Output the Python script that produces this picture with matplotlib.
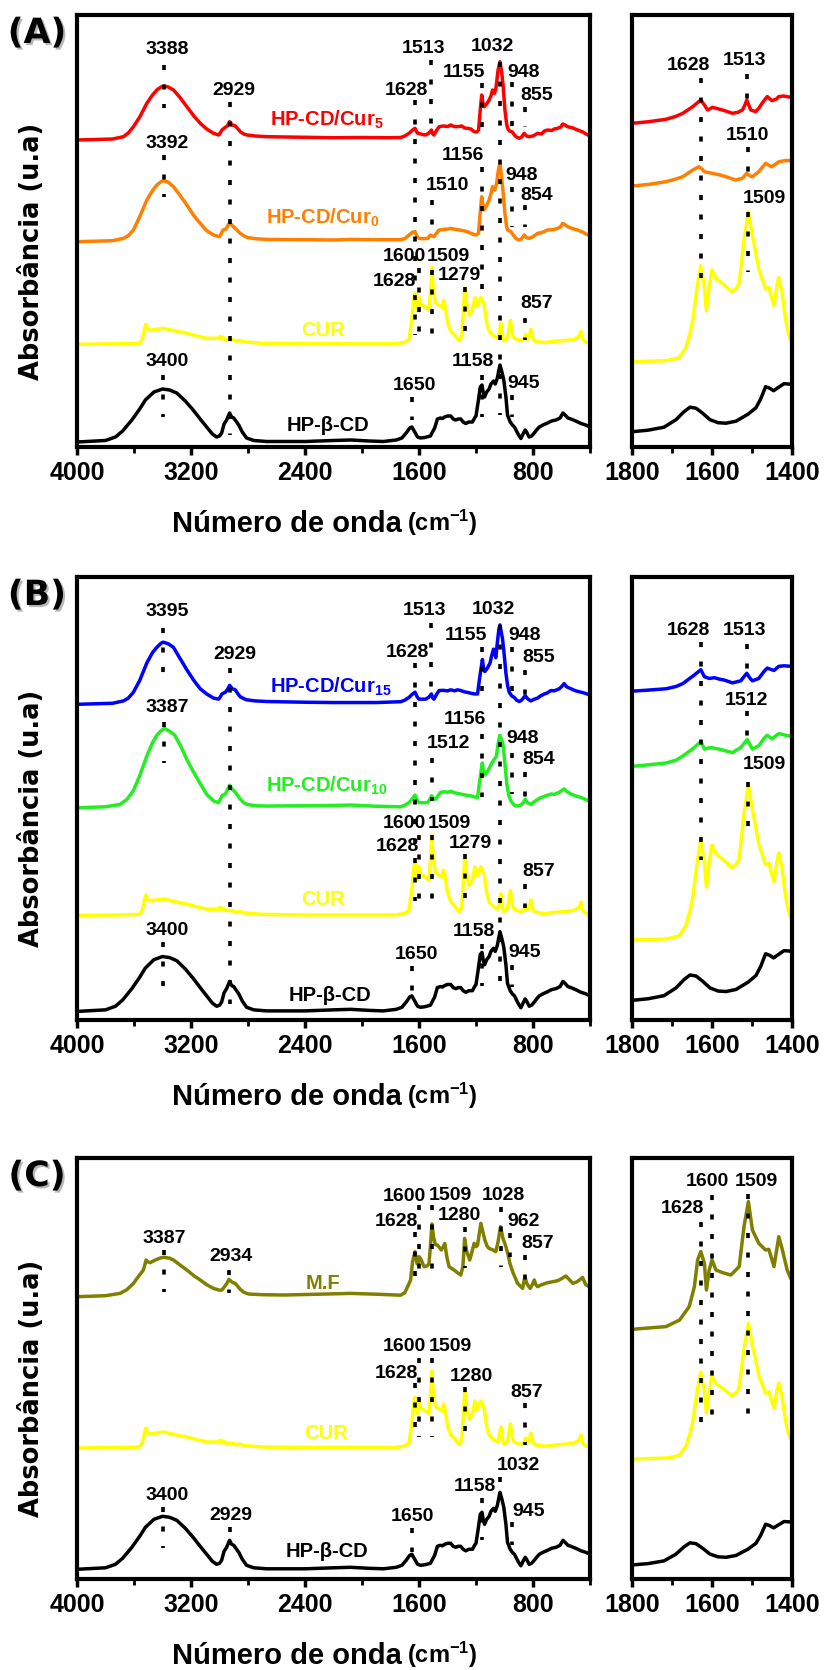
import numpy as np
import matplotlib
matplotlib.use("Agg")
import matplotlib.pyplot as plt
from matplotlib import patheffects

# ---------------------------------------------------------------------------
# FTIR spectra (wavenumber in cm-1, absorbance in arbitrary units above the
# spectrum's own baseline). Stacking offsets are applied per panel below.
# ---------------------------------------------------------------------------

# HP-beta-CD, full range
hpbcd_full = [
    (4000, 0), (3800, 1.5), (3730, 5), (3680, 11), (3615, 22), (3560, 33), (3520, 42),
    (3460, 50), (3400, 53), (3350, 52), (3300, 49), (3240, 41), (3185, 32), (3130, 22),
    (3090, 15), (3050, 8), (3020, 5), (3000, 6), (2985, 9), (2968, 18), (2950, 22),
    (2929, 29), (2915, 25), (2900, 24), (2880, 20), (2865, 17), (2840, 10), (2810, 4),
    (2760, 1.5), (2670, 0.5), (2400, 0.5), (2300, 1), (2200, 1.5), (2080, 2), (1950, 1),
    (1850, 0.5), (1760, 2), (1720, 4), (1690, 9), (1665, 14), (1650, 15), (1630, 10),
    (1610, 5), (1590, 4), (1560, 4.5), (1520, 6), (1490, 14), (1471, 23), (1450, 24),
    (1436, 23.5), (1420, 25), (1400, 26), (1377, 26), (1360, 23), (1342, 22), (1325, 23),
    (1307, 23), (1290, 20), (1272, 18.5), (1250, 20), (1225, 20), (1210, 24), (1200, 26),
    (1185, 40), (1170, 55), (1158, 57), (1150, 50), (1140, 45), (1125, 50), (1108, 53),
    (1095, 58), (1077, 61), (1065, 58), (1050, 64), (1032, 77), (1018, 70), (1005, 62),
    (990, 45), (979, 27), (960, 20), (945, 17), (930, 15), (905, 8), (885, 3.5), (870, 8),
    (855, 12), (845, 10), (827, 5), (810, 6), (791, 9), (775, 12), (756, 15), (730, 17),
    (698, 19), (670, 21), (639, 22), (610, 24), (590, 29), (575, 27), (555, 24),
    (534, 23), (500, 21), (463, 18.5), (430, 17), (400, 15),
]

# Curcumin, full range
cur_full = [
    (4000, 0), (3700, 0.5), (3560, 1), (3540, 6), (3525, 16), (3515, 20), (3505, 15),
    (3490, 14), (3440, 15), (3393, 16), (3300, 13), (3229, 11), (3150, 8), (3088, 6),
    (3010, 6), (2995, 8), (2985, 5), (2975, 7), (2960, 5), (2900, 4.3), (2880, 3),
    (2860, 4), (2831, 2.5), (2700, 1), (2400, 0.5), (2000, 0.5), (1760, 0.5), (1700, 2),
    (1670, 5), (1650, 25), (1635, 47), (1628, 51), (1614, 34), (1600, 47), (1588, 40),
    (1553, 37), (1530, 34), (1518, 55), (1509, 77), (1500, 55), (1485, 42), (1471, 40),
    (1436, 37), (1428, 44), (1419, 40), (1401, 23), (1377, 13), (1354, 10), (1319, 3.5),
    (1300, 8), (1290, 30), (1279, 56), (1265, 40), (1248, 29), (1225, 34), (1208, 47),
    (1195, 38), (1180, 42), (1166, 47), (1143, 40), (1125, 22), (1108, 13), (1073, 8),
    (1044, 6), (1030, 18), (1025, 21), (1015, 8), (1002, 3.5), (978, 7), (966, 18),
    (958, 24), (945, 10), (932, 6), (885, 3.5), (862, 6), (850, 10), (840, 5), (825, 8),
    (815, 15), (805, 8), (791, 3.5), (721, 1.7), (650, 3), (603, 3.5), (560, 4),
    (510, 5), (475, 8), (463, 13), (452, 5), (428, 2), (400, 1),
]

# HP-CD/Cur5, full range
cur5_full = [
    (4000, 0), (3750, 1), (3674, 3.3), (3640, 7), (3604, 13.3), (3560, 23), (3510, 36.7),
    (3470, 45), (3440, 50), (3410, 53), (3388, 54), (3360, 53), (3323, 50), (3280, 43),
    (3229, 33.3), (3180, 24), (3135, 16.7), (3090, 11), (3042, 6.7), (3006, 5), (2995, 7),
    (2983, 10), (2959, 12.7), (2945, 14), (2929, 18.3), (2910, 15), (2889, 14), (2870, 11),
    (2854, 8.3), (2830, 6), (2807, 5), (2750, 4), (2666, 3.3), (2400, 2.7), (2197, 2.3),
    (2000, 2.5), (1800, 2.3), (1729, 2.5), (1700, 4), (1670, 6.7), (1645, 10), (1628, 11.7),
    (1612, 7), (1600, 6.5), (1575, 5.5), (1553, 5), (1530, 7), (1513, 10), (1503, 6),
    (1495, 5), (1475, 10), (1459, 13.3), (1430, 14), (1400, 13.5), (1377, 15), (1355, 13.5),
    (1330, 13.3), (1300, 14), (1280, 12), (1260, 11.7), (1235, 11), (1213, 8.3), (1195, 8),
    (1182, 10), (1170, 30), (1160, 45), (1150, 36), (1143, 33.3), (1125, 36), (1108, 40),
    (1095, 44), (1084, 50), (1070, 46.7), (1060, 52), (1045, 70), (1032, 78.3), (1020, 68),
    (1010, 55), (997, 30), (985, 16), (978, 11.7), (965, 9), (948, 8.3), (935, 6),
    (920, 3.3), (897, 1.7), (880, 3), (862, 6.7), (845, 4), (827, 3.3), (800, 4),
    (768, 6.7), (740, 6), (720, 9), (698, 10), (670, 9.5), (650, 11), (627, 11.7),
    (605, 13), (592, 16), (575, 15), (557, 13.3), (520, 12), (487, 10), (450, 8),
    (428, 6), (400, 4),
]

# HP-CD/Cur0, full range
cur0_full = [
    (4000, 0), (3750, 1), (3674, 3.3), (3640, 6), (3604, 11.7), (3560, 25), (3510, 41.7),
    (3470, 51), (3440, 56.7), (3410, 60), (3392, 61), (3360, 59.5), (3323, 55), (3280, 47),
    (3229, 36.7), (3180, 26), (3135, 18.3), (3090, 11), (3042, 6.7), (3000, 5), (2988, 8),
    (2976, 11.7), (2958, 12.3), (2945, 15), (2929, 19), (2910, 16), (2889, 13.3),
    (2870, 10.5), (2854, 8.3), (2830, 6), (2807, 4.3), (2750, 3), (2666, 2.3), (2400, 2),
    (2197, 1.7), (2080, 2.3), (1900, 2), (1729, 2), (1700, 3), (1670, 6.7), (1645, 9.5),
    (1628, 10), (1612, 5), (1600, 3.3), (1570, 3), (1537, 3.3), (1520, 6.7), (1510, 6),
    (1495, 5), (1475, 9), (1459, 11.7), (1420, 12.5), (1400, 12.5), (1377, 13.3),
    (1350, 12.5), (1318, 11.7), (1290, 11), (1260, 10), (1230, 8), (1201, 6.7), (1182, 8.3),
    (1170, 30), (1160, 45), (1150, 36), (1143, 31.7), (1125, 36), (1108, 41.7), (1095, 48),
    (1084, 55), (1068, 51.7), (1055, 58), (1045, 70), (1032, 78.3), (1021, 65), (1010, 50),
    (997, 28.3), (985, 15), (978, 11.7), (955, 10), (935, 6), (920, 3.3), (897, 1.7),
    (880, 3), (862, 6.7), (845, 4), (827, 3.3), (800, 5), (768, 8.3), (740, 9), (698, 11.7),
    (660, 12), (627, 13.3), (605, 15), (592, 18.3), (575, 17), (557, 15), (520, 13),
    (487, 11.7), (450, 9.5), (428, 7.7), (400, 6),
]

# HP-CD/Cur15, full range
cur15_full = [
    (4000, 0), (3750, 1), (3674, 3.3), (3640, 6), (3604, 11.7), (3560, 23), (3510, 40),
    (3470, 50), (3440, 55), (3410, 59), (3395, 60), (3360, 58.5), (3323, 55), (3280, 45),
    (3229, 33.3), (3180, 23), (3135, 15), (3090, 10), (3042, 6), (3006, 5), (2995, 7),
    (2983, 10), (2959, 11.7), (2945, 14), (2929, 18.3), (2910, 15), (2889, 14), (2870, 10),
    (2854, 7.3), (2830, 5.5), (2807, 4.3), (2750, 3.3), (2666, 2.7), (2400, 2), (2197, 1.7),
    (1900, 1.7), (1729, 2.5), (1700, 4), (1670, 6.7), (1645, 10), (1628, 11.7), (1612, 7),
    (1600, 5), (1575, 5), (1553, 5), (1530, 7), (1513, 10), (1503, 6), (1495, 5),
    (1475, 10), (1459, 13.3), (1430, 13.5), (1400, 13), (1377, 14), (1350, 13), (1330, 14),
    (1307, 13.3), (1280, 12), (1260, 11.5), (1236, 10.7), (1210, 10), (1189, 10),
    (1175, 25), (1155, 43.3), (1146, 34), (1138, 31.7), (1120, 35), (1101, 40), (1090, 47),
    (1077, 53.3), (1061, 45), (1050, 60), (1040, 72), (1032, 76.7), (1014, 63.3),
    (1002, 48), (990, 30), (978, 18), (967, 11.7), (948, 8), (932, 6.7), (915, 4),
    (897, 2.7), (880, 4), (862, 7), (855, 8.3), (835, 5), (815, 3.3), (790, 5), (768, 6),
    (745, 8.3), (720, 10), (700, 11), (674, 13.3), (650, 13), (616, 15), (600, 17),
    (581, 20), (565, 17), (534, 15), (500, 13), (463, 11.7), (430, 10.5), (400, 9),
]

# HP-CD/Cur10, full range
cur10_full = [
    (4000, 0), (3800, 1), (3698, 3.3), (3650, 8), (3604, 16.7), (3560, 31), (3510, 50),
    (3470, 63), (3440, 70), (3410, 74.5), (3387, 76.7), (3350, 74), (3313, 70), (3270, 59),
    (3229, 46.7), (3180, 34), (3135, 23.3), (3090, 13), (3042, 6.7), (3006, 5), (2995, 8),
    (2983, 11.7), (2959, 13.3), (2945, 17), (2929, 21.7), (2910, 18), (2889, 15),
    (2870, 11.5), (2854, 8.3), (2830, 5), (2807, 3.3), (2750, 2), (2666, 1.7), (2400, 2),
    (2200, 2.3), (2080, 2.7), (1900, 1.5), (1729, 1), (1700, 2.5), (1670, 5), (1645, 9),
    (1628, 12.3), (1612, 7), (1600, 5), (1570, 5), (1541, 5), (1525, 8), (1512, 11.7),
    (1500, 9), (1483, 8.3), (1465, 12), (1448, 15), (1420, 15.5), (1400, 15), (1377, 16),
    (1350, 14.5), (1330, 14), (1307, 13.3), (1280, 12.5), (1260, 12), (1236, 11.7),
    (1210, 10.5), (1189, 10), (1175, 25), (1156, 43.3), (1147, 35), (1138, 31.7),
    (1120, 35), (1101, 40), (1085, 44), (1073, 46.7), (1056, 50), (1045, 62), (1033, 70),
    (1020, 66), (1009, 60), (995, 40), (984, 23.3), (970, 12), (955, 6.7), (935, 3),
    (920, 1.7), (900, 2), (885, 2.7), (868, 5), (854, 8.3), (840, 5), (815, 3.3), (790, 6),
    (768, 8), (745, 10), (720, 11), (700, 12), (674, 13.3), (650, 13), (616, 15),
    (600, 16.5), (581, 18.3), (565, 16), (534, 13.3), (500, 11.5), (463, 10), (430, 8),
    (400, 6),
]

# Physical mixture (M.F), full range
mf_full = [
    (4000, 0), (3800, 1), (3698, 3.3), (3650, 7), (3604, 13.3), (3570, 20), (3534, 26.7),
    (3522, 33), (3515, 36.7), (3505, 35), (3487, 34), (3460, 36), (3440, 37.3), (3410, 39),
    (3387, 39.3), (3350, 38.5), (3323, 36.7), (3280, 32), (3229, 26.7), (3180, 21),
    (3135, 16.7), (3090, 12), (3042, 8.3), (3000, 6.5), (2983, 6.7), (2965, 10),
    (2948, 13.3), (2934, 17.3), (2920, 15.5), (2905, 14), (2889, 13.3), (2870, 10),
    (2854, 7.3), (2830, 4.5), (2796, 2.7), (2700, 2), (2549, 1.7), (2300, 2.5), (2080, 3.3),
    (1900, 2.5), (1729, 1.5), (1700, 4), (1680, 10), (1659, 16.7), (1645, 35), (1628, 45),
    (1614, 33), (1607, 33.3), (1600, 40), (1588, 38), (1565, 30), (1540, 31), (1530, 33.3),
    (1520, 50), (1509, 72.7), (1498, 60), (1485, 52), (1471, 51.7), (1443, 46.7),
    (1430, 50), (1419, 53.3), (1405, 40), (1389, 30), (1354, 26.7), (1330, 24),
    (1307, 21.7), (1292, 30), (1280, 58.3), (1265, 45), (1244, 36.7), (1228, 45),
    (1213, 53.3), (1200, 50), (1189, 51.7), (1178, 62), (1166, 73.3), (1152, 65),
    (1138, 56.7), (1120, 50), (1108, 48.3), (1085, 47), (1061, 45), (1045, 55), (1028, 70),
    (1010, 58), (990, 50), (975, 42), (962, 33.3), (940, 24), (908, 13.3), (873, 8.3),
    (857, 20), (843, 13), (820, 8.3), (805, 12), (791, 16.7), (780, 12), (768, 10),
    (740, 12), (698, 14), (660, 15), (627, 16), (600, 18), (569, 20.7), (545, 17),
    (520, 13.3), (490, 15), (463, 18), (452, 19.3), (430, 12), (405, 10), (400, 9),
]

# 1800-1400 cm-1 detail
hpbcd_zoom = [
    (1800, 0), (1760, 1.5), (1720, 4.5), (1690, 12), (1670, 20), (1655, 24.5), (1640, 23.5),
    (1625, 19), (1605, 12), (1585, 9), (1565, 8.5), (1540, 10.5), (1510, 17.5), (1490, 24),
    (1478, 33), (1466, 45), (1456, 43.5), (1446, 41), (1435, 44), (1420, 48), (1402, 47.5),
]
cur_zoom = [
    (1800, 0), (1760, 0.5), (1715, 1), (1695, 2.5), (1681, 4.3), (1665, 14.3), (1655, 28),
    (1648, 41), (1642, 60), (1636, 77.7), (1628, 96), (1619, 75), (1614, 51), (1607, 75),
    (1600, 91.7), (1590, 83.3), (1574, 78.3), (1562, 74), (1551, 70), (1540, 73),
    (1532, 78.3), (1520, 121.7), (1509, 150), (1499, 126), (1490, 108), (1483, 92.7),
    (1466, 72.7), (1458, 74.3), (1450, 63), (1445, 56), (1438, 75), (1433, 84.3),
    (1425, 69.3), (1418, 48), (1412, 33), (1406, 25), (1402, 21),
]
cur5_zoom = [
    (1800, 0), (1760, 1.5), (1715, 4), (1690, 7), (1673, 10), (1648, 16.7), (1635, 21),
    (1628, 23.3), (1619, 18.3), (1611, 13.3), (1605, 14.5), (1599, 16), (1585, 14.5),
    (1574, 13.3), (1560, 11.5), (1549, 10), (1535, 11), (1524, 13.3), (1518, 18),
    (1513, 23.3), (1508, 18), (1503, 13.3), (1491, 11.7), (1483, 15), (1475, 20),
    (1462, 26.7), (1450, 22.7), (1440, 24), (1433, 26.7), (1421, 27.3), (1410, 26.5),
    (1402, 26),
]
cur0_zoom = [
    (1800, 0), (1760, 1.5), (1715, 4.3), (1690, 7), (1673, 9.3), (1648, 16), (1633, 19.3),
    (1625, 17), (1619, 14.3), (1610, 13.5), (1599, 12.7), (1580, 11), (1565, 9.3),
    (1541, 6), (1524, 7.7), (1513, 12.7), (1505, 10), (1499, 9.3), (1483, 14.3),
    (1466, 22.7), (1452, 19.3), (1440, 22), (1433, 24.3), (1415, 25.5), (1402, 25.3),
]
cur15_zoom = [
    (1800, 0), (1760, 1), (1715, 2.3), (1690, 4.5), (1673, 7.3), (1644, 15.7), (1628, 20.7),
    (1619, 14), (1607, 12.3), (1594, 13), (1580, 11.5), (1569, 10.7), (1549, 8), (1528, 10),
    (1520, 14), (1513, 17.3), (1506, 13), (1499, 10), (1483, 12.3), (1470, 19),
    (1462, 22.3), (1445, 20), (1433, 24), (1420, 24.5), (1402, 24),
]
cur10_zoom = [
    (1800, 0), (1760, 1.5), (1715, 3.3), (1690, 6), (1673, 10), (1644, 18.3), (1628, 24),
    (1619, 16.7), (1603, 18.3), (1582, 16.7), (1565, 15), (1549, 13.3), (1528, 18.3),
    (1512, 26), (1505, 21), (1499, 16.7), (1483, 20), (1470, 27), (1462, 30), (1450, 26.7),
    (1433, 31.7), (1420, 30.5), (1402, 29),
]
mf_zoom = [
    (1800, 0), (1715, 3), (1681, 10.3), (1657, 25.1), (1644, 47.2), (1636, 76.6),
    (1628, 85.9), (1619, 72.9), (1614, 43.4), (1607, 65.5), (1600, 76.6), (1590, 65.5),
    (1574, 62.7), (1553, 60), (1532, 69.3), (1520, 113.5), (1509, 141.1), (1499, 109.7),
    (1483, 95), (1466, 87.6), (1458, 88.4), (1445, 69.3), (1433, 102.4), (1425, 89.5),
    (1412, 65.5), (1403, 56),
]

# Series colours
RED, ORANGE, YELLOW, BLACK = "#FF0000", "#FF8000", "#FFFF00", "#000000"
BLUE, GREEN, OLIVE = "#0000FF", "#22EE22", "#808000"

# ---------------------------------------------------------------------------
plt.rcParams["font.family"] = ["Liberation Sans", "DejaVu Sans"]
plt.rcParams["font.weight"] = "bold"
plt.rcParams["mathtext.fontset"] = "custom"
plt.rcParams["mathtext.rm"] = "Liberation Sans:bold"
plt.rcParams["mathtext.it"] = "Liberation Sans:bold"
plt.rcParams["mathtext.bf"] = "Liberation Sans:bold"

W, H = 827, 1670
fig = plt.figure(figsize=(W / 100, H / 100), dpi=100)
fig.patch.set_facecolor("white")


def frac(x0, y0, x1, y1):
    return [x0 / W, 1 - y1 / H, (x1 - x0) / W, (y1 - y0) / H]


def style_axes(ax, major, minor, xlim, ylim):
    ax.set_xlim(*xlim)
    ax.set_ylim(*ylim)
    ax.set_yticks([])
    ax.set_xticks(major)
    ax.set_xticks(minor, minor=True)
    ax.set_xticklabels([str(v) for v in major])
    for side in ("top", "bottom", "left", "right"):
        ax.spines[side].set_linewidth(3)
    ax.tick_params(axis="x", which="major", direction="out", length=6, width=2.5,
                   labelsize=18, pad=4)
    ax.tick_params(axis="x", which="minor", direction="out", length=4, width=2)
    for lab in ax.get_xticklabels():
        lab.set_fontweight("bold")


def draw(ax, pts, offset, color):
    a = np.array(sorted(pts, key=lambda p: -p[0]), dtype=float)
    ax.plot(a[:, 0], a[:, 1] + offset, color=color, lw=2.5,
            solid_joinstyle="round", solid_capstyle="round", zorder=2)


def guides(ax, lines):
    for wn, y0, y1 in lines:
        ax.plot([wn, wn], [y0, y1], color="black", lw=2.6, linestyle=(0, (1.4, 4.0)),
                dash_capstyle="butt", zorder=3)


def peak_labels(ax, labels):
    for txt, x, y in labels:
        ax.text(x, y, txt, ha="center", va="center", fontsize=14, fontweight="bold",
                zorder=4)


def curve_labels(ax, labels):
    for txt, x, y, color in labels:
        ax.text(x, y, txt, ha="center", va="center", fontsize=14.5, fontweight="bold",
                color=color, zorder=4)


def panel_frame(top, bottom, letter, main_h, zoom_h):
    axm = fig.add_axes(frac(77, top, 590, bottom))
    axz = fig.add_axes(frac(632, top, 792, bottom))
    style_axes(axm, [4000, 3200, 2400, 1600, 800], [3600, 2800, 2000, 1200, 400],
               (4000, 400), (0, main_h))
    style_axes(axz, [1800, 1600, 1400], [1700, 1500], (1800, 1400), (0, zoom_h))
    # panel letter with drop shadow
    fig.text(37 / W, 1 - (top + 18) / H, f"({letter})", fontsize=25, fontweight="bold",
             family="DejaVu Sans", ha="center", va="center",
             path_effects=[patheffects.SimplePatchShadow(offset=(1.5, -1.5),
                                                         shadow_rgbFace="#888888",
                                                         alpha=0.6),
                           patheffects.Normal()])
    # y label
    fig.text(32.5 / W, 1 - ((top + bottom) / 2 + 20) / H, "Absorbância (u.a)",
             rotation=90, fontsize=18.5, fontweight="bold", family="DejaVu Sans",
             ha="center", va="center")
    # x label: large words followed by smaller unit
    t = fig.text(172 / W, 1 - (bottom + 85) / H, "Número de onda", fontsize=21,
                 fontweight="bold", ha="left", va="baseline")
    axm.annotate("(cm$^{-1}$)", xy=(1, 0), xycoords=t, xytext=(4, 0),
                 textcoords="offset points", fontsize=17, fontweight="bold",
                 ha="left", va="bottom", annotation_clip=False)
    return axm, axz


# ----------------------------- Panel A -------------------------------------
axA, axAz = panel_frame(15, 447, "A", 432, 432)
draw(axA, cur5_full, 307, RED)
draw(axA, cur0_full, 205.3, ORANGE)
draw(axA, cur_full, 102.7, YELLOW)
draw(axA, hpbcd_full, 5, BLACK)
guides(axA, [(3388, 382, 339), (2929, 345, 12), (3392, 292, 250), (1628, 347, 112),
             (1513, 387, 310), (1510, 247, 210), (1155, 364, 317), (1032, 385, 32),
             (948, 365, 320), (855, 340, 320), (1156, 280, 157), (948, 260, 220),
             (854, 242, 220), (1600, 179, 112), (1509, 177, 112), (1279, 160, 114),
             (857, 129, 107), (3400, 72, 30), (1650, 50, 27), (1158, 72, 30),
             (945, 52, 30)])
peak_labels(axA, [("3388", 3370, 397.7), ("2929", 2897, 357), ("3392", 3364, 303.7),
                  ("1628", 1689, 357), ("1513", 1570, 398.7), ("1155", 1284, 374.3),
                  ("1032", 1084, 400.3), ("948", 867, 374.3), ("855", 774, 352),
                  ("1156", 1289, 292), ("1510", 1400, 262), ("948", 878, 272),
                  ("854", 774, 252), ("1600", 1700, 190.3), ("1628", 1771, 165.3),
                  ("1509", 1395, 190.3), ("1279", 1314, 172), ("857", 774, 143.7),
                  ("3400", 3366, 85.3), ("1650", 1630, 62), ("1158", 1219, 85.3),
                  ("945", 867, 63.7)])
curve_labels(axA, [("HP-CD/Cur$_{5}$", 2249, 327, RED),
                   ("HP-CD/Cur$_{0}$", 2277, 229, ORANGE),
                   ("CUR", 2277, 116.3, YELLOW),
                   ("HP-β-CD", 2238, 21.3, BLACK)])

draw(axAz, cur5_zoom, 323.7, RED)
draw(axAz, cur0_zoom, 261, ORANGE)
draw(axAz, cur_zoom, 85.3, YELLOW)
draw(axAz, hpbcd_zoom, 15.3, BLACK)
guides(axAz, [(1628, 369, 155), (1513, 373, 337), (1510, 300, 272), (1509, 235, 175)])
peak_labels(axAz, [("1628", 1659, 382), ("1513", 1518, 387), ("1510", 1512, 312),
                   ("1509", 1470, 248.7)])

# ----------------------------- Panel B -------------------------------------
axB, axBz = panel_frame(577, 1020, "B", 428, 428)
draw(axB, cur15_full, 305, BLUE)
draw(axB, cur10_full, 205, GREEN)
draw(axB, cur_full, 101, YELLOW)
draw(axB, hpbcd_full, 8.3, BLACK)
guides(axB, [(3395, 378.3, 335), (2929, 340, 15), (3387, 288.3, 248.3), (1628, 345, 115),
             (1513, 383.3, 311.7), (1032, 382, 38), (1155, 360, 318.3), (948, 360, 318.3),
             (855, 338.3, 313.3), (1156, 276.7, 215), (1512, 253.3, 211.7),
             (948, 258.3, 218.3), (854, 240, 213.3), (1600, 178.3, 115),
             (1509, 178.3, 116.7), (1279, 160, 115), (857, 131.7, 108.3),
             (3400, 75, 31.7), (1650, 51.7, 28.3), (1158, 73.3, 33.3), (945, 53.3, 31.7)])
peak_labels(axB, [("3395", 3364, 394.3), ("2929", 2891, 353.3), ("3387", 3364, 301.7),
                  ("1628", 1679, 355), ("1513", 1560, 395.7), ("1032", 1078, 396.7),
                  ("1155", 1272, 371), ("948", 857, 371), ("855", 762, 350),
                  ("1156", 1279, 290), ("1512", 1395, 266.7), ("948", 871, 271.7),
                  ("854", 762, 251.7), ("1600", 1700, 190), ("1628", 1750, 167.7),
                  ("1509", 1389, 190), ("1279", 1240, 171), ("857", 762, 143.3),
                  ("3400", 3364, 86.7), ("1650", 1618, 63.3), ("1158", 1213, 85.7),
                  ("945", 857, 65)])
curve_labels(axB, [("HP-CD/Cur$_{15}$", 2221, 322.3, BLUE),
                   ("HP-CD/Cur$_{10}$", 2249, 226, GREEN),
                   ("CUR", 2274, 116.7, YELLOW),
                   ("HP-β-CD", 2228, 23.3, BLACK)])

draw(axBz, cur15_zoom, 317.7, BLUE)
draw(axBz, cur10_zoom, 245, GREEN)
draw(axBz, cur_zoom, 77.3, YELLOW)
draw(axBz, hpbcd_zoom, 19, BLACK)
guides(axBz, [(1628, 365, 155), (1513, 363.3, 328.3), (1512, 298.3, 271.7),
              (1509, 230, 175)])
peak_labels(axBz, [("1628", 1659, 376.7), ("1513", 1517.5, 376.7), ("1512", 1514, 309),
                   ("1509", 1468, 247.3)])

# ----------------------------- Panel C -------------------------------------
axC, axCz = panel_frame(1158, 1579, "C", 421, 465.2)
draw(axC, mf_full, 282.3, OLIVE)
draw(axC, cur_full, 131, YELLOW)
draw(axC, hpbcd_full, 9.7, BLACK)
guides(axC, [(3387, 329, 287.3), (2934, 309, 285.7), (1600, 374, 295.7),
             (1600, 220.7, 142.3), (1628, 347.3, 290.7), (1628, 196, 142.3),
             (1509, 374, 295.7), (1509, 221, 142.3), (1280, 352.3, 310.7),
             (1280, 192.3, 137.3), (1028, 371.7, 312.3), (962, 345.7, 322.3),
             (857, 324, 285.7), (857, 175.7, 134), (3400, 72.3, 30.7), (2929, 52, 44),
             (1650, 50.7, 27.3), (1158, 80.7, 39), (1032, 102.3, 97.3), (945, 57.3, 34)])
peak_labels(axC, [("3387", 3387, 340.7), ("2934", 2921, 322.3), ("1600", 1700, 382.3),
                  ("1628", 1760, 357.3), ("1509", 1381, 383), ("1280", 1319, 364),
                  ("1028", 1006, 383), ("962", 867, 357.3), ("857", 767, 335),
                  ("1600", 1700, 232.3), ("1628", 1760, 205.7), ("1509", 1381, 232.3),
                  ("1280", 1233, 202.3), ("857", 844, 186.5),
                  ("3400", 3366, 83), ("2929", 2921, 63), ("1650", 1644, 62.3),
                  ("1158", 1207, 92.3), ("1032", 902, 113), ("945", 832, 67.3)])
curve_labels(axC, [("M.F", 2274, 295.7, OLIVE),
                   ("CUR", 2250, 145.7, YELLOW),
                   ("HP-β-CD", 2249, 27.3, BLACK)])

draw(axCz, mf_zoom, 275.9, OLIVE)
draw(axCz, cur_zoom, 132.6, YELLOW)
draw(axCz, hpbcd_zoom, 15.5, BLACK)
guides(axCz, [(1600, 424.3, 172), (1628, 394.8, 164.6), (1509, 425.4, 172)])
peak_labels(axCz, [("1600", 1612, 439), ("1628", 1673, 409.6), ("1509", 1488, 439)])

fig.savefig("out.png", dpi=100, facecolor="white")
